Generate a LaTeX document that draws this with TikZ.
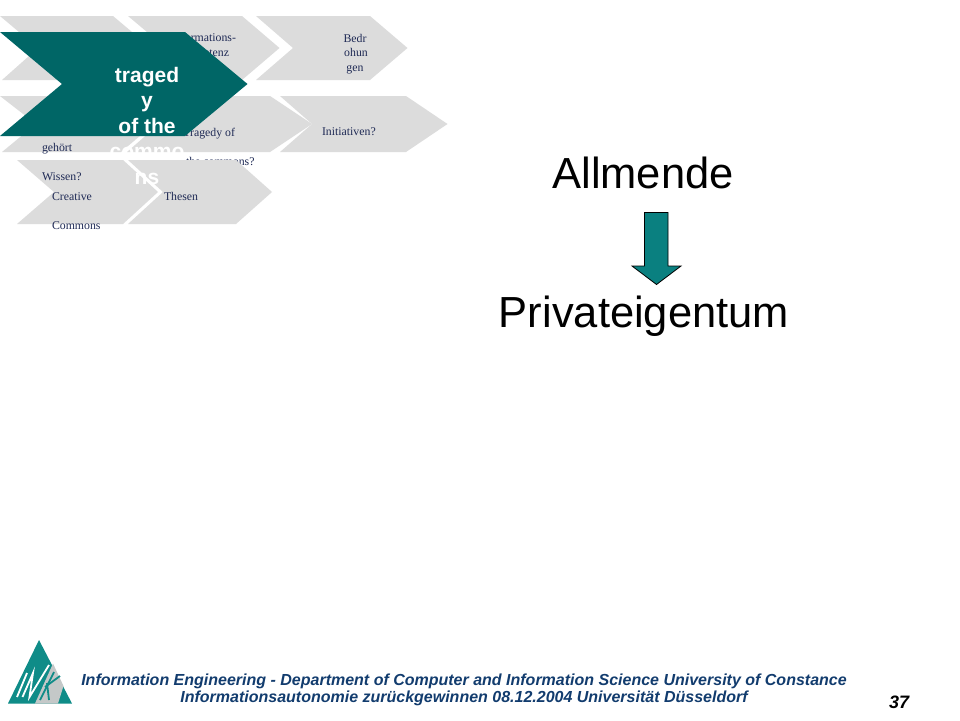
\documentclass[tikz,border=0pt]{standalone}
\usepackage{fontspec}
\setmainfont{Liberation Serif}
\newfontfamily\arialfont{Liberation Sans}
\definecolor{chevgray}{HTML}{DCDCDC}
\definecolor{chevteal}{HTML}{006666}
\definecolor{arrowteal}{HTML}{0A8080}
\definecolor{logoteal}{HTML}{0F8C88}
\definecolor{logogray}{HTML}{C4C8C8}
\definecolor{labelnavy}{HTML}{1F2A55}
\definecolor{footnavy}{HTML}{123C6E}
\tikzset{
  chev/.style={fill=chevgray,draw=none},
  lbl/.style={inner sep=0pt,outer sep=0pt,anchor=base west,text=labelnavy,font=\fontsize{11.8}{13}\selectfont},
  lblc/.style={lbl,anchor=base},
  lble/.style={lbl,anchor=base east},
  tealtext/.style={inner sep=0pt,outer sep=0pt,anchor=base,text=white,font=\arialfont\bfseries\fontsize{21}{24}\selectfont},
  bigtext/.style={inner sep=0pt,outer sep=0pt,anchor=base,text=black,font=\arialfont\fontsize{43.5}{50}\selectfont},
  foot/.style={inner sep=0pt,outer sep=0pt,anchor=base,text=footnavy,font=\arialfont\bfseries\itshape\fontsize{16}{18}\selectfont},
  logostroke/.style={draw=white,line width=1.8pt,line join=miter},
  logok/.style={draw=logoteal,line width=1.8pt}
}
\begin{document}
\begin{tikzpicture}[x=1pt,y=-1pt]
\useasboundingbox[fill=white] (0,0) rectangle (960,720);
% row 1
\fill[chev] (0,16)--(113,16)--(151,48)--(113,80)--(2,80)--(38,48)--cycle;
\fill[chev] (128,16)--(242,16)--(279.5,48)--(242,80)--(128,80)--(166,48)--cycle;
\fill[chev] (256,16)--(370,16)--(407.5,48)--(370,80)--(256,80)--(293,48)--cycle;
\node[lble] (t1) at (236,41) {Informations-};
\node[lble] (t2) at (229,56) {kompetenz};
\node[lblc] (b1) at (355,42) {Bedr};
\node[lblc] (b2) at (356,56.5) {ohun};
\node[lblc] (b3) at (355,71.5) {gen};
% row 2
\fill[chev] (0,96)--(121,96)--(154,124)--(121,152)--(2,152)--(36,124)--cycle;
\fill[chev] (127,96)--(270,96)--(312,124)--(270,152)--(127,152)--(159,124)--cycle;
\fill[chev] (280,96)--(406,96)--(447.5,124)--(406,152)--(280,152)--(312,124)--cycle;
\node[lble] (t3) at (235,136) {Tragedy of};
\node[lbl] (t4) at (186,165) {the commons?};
\node[lbl] (t5) at (322,135.5) {Initiativen?};
\node[lbl] (t6) at (42,151) {gehört};
% row 3
\fill[chev] (17,160)--(123,160)--(158,192)--(123,224)--(17,224)--(54,192)--cycle;
\fill[chev] (128,160)--(236,160)--(272,192)--(236,224)--(128,224)--(163,192)--cycle;
\node[lbl] (t7) at (42,180) {Wissen?};
\node[lbl] (t8) at (52,200) {Creative};
\node[lbl] (t9) at (52,229) {Commons};
\node[lbl] (t10) at (164,200) {Thesen};
% teal chevron
\fill[chevteal] (0,32)--(185,32)--(247.5,84)--(185,136)--(0,136)--(62,84)--cycle;
\node[tealtext] (c1) at (147,82) {traged};
\node[tealtext] (c2) at (147,107.5) {y};
\node[tealtext] (c3) at (147,133) {of the};
\node[tealtext] (c4) at (147,158.5) {commo};
\node[tealtext] (c5) at (147,184) {ns};
% right side
\node[bigtext] (allm) at (643,188) {Allmende};
\node[bigtext] (priv) at (644,327) {Privateigentum};
\draw[fill=arrowteal,draw=black,line width=0.8pt,line join=miter]
  (644.5,212.5)--(668,212.5)--(668,266)--(681,266)--(656.5,284.5)--(632,266)--(644.5,266)--cycle;
% logo
\fill[logoteal] (39,640)--(72,703.5)--(8,703.5)--cycle;
\fill[logogray] (53,663.5)--(63.5,686)--(58,703.5)--(35,703.5)--cycle;
\draw[logostroke] (17,697)--(27,673);
\draw[logostroke] (22.5,697)--(33,673)--(29.5,697)--(49,665);
\draw[logok] (40,700)--(54,672);
\draw[logok] (45,687)--(60,676);
\draw[logok] (47,683)--(49,700);
% footer
\node[foot] (f1) at (464,685) {Information Engineering - Department of Computer and Information Science University of Constance};
\node[foot] (f2) at (464,702) {Informationsautonomie zurückgewinnen 08.12.2004 Universität Düsseldorf};
\node[inner sep=0pt,anchor=base,text=black,font=\arialfont\bfseries\itshape\fontsize{18}{20}\selectfont] (pg) at (899,708) {37};
\end{tikzpicture}
\end{document}
